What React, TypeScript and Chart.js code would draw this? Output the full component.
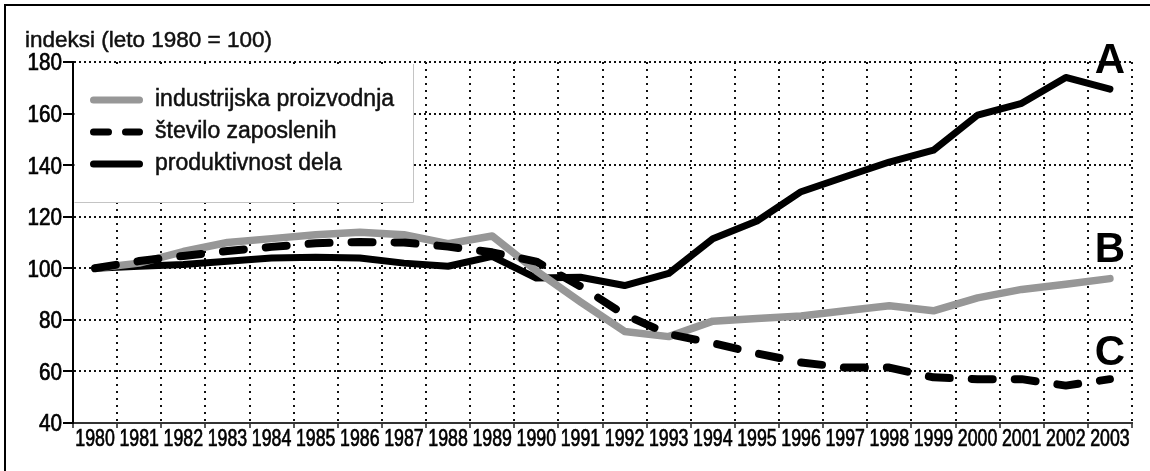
import React, { useEffect, useRef } from 'react';
import { Chart, registerables } from 'chart.js';

Chart.register(...registerables);

// ---- data ----
const YEARS = [
  '1980', '1981', '1982', '1983', '1984', '1985', '1986', '1987', '1988', '1989', '1990', '1991',
  '1992', '1993', '1994', '1995', '1996', '1997', '1998', '1999', '2000', '2001', '2002', '2003',
];
const INDUSTRIJSKA_PROIZVODNJA = [
  100, 102, 106.5, 110, 111.5, 113, 114, 113, 109.5, 112.5, 99, 87,
  75.5, 73.5, 79.5, 80.5, 81.5, 83.5, 85.5, 83.5, 88.5, 91.8, 93.8, 96,
];
const STEVILO_ZAPOSLENIH = [
  100, 102.8, 104.8, 106.7, 108.3, 109.7, 110.2, 110, 108.4, 106.2, 102.6, 93,
  82, 74.5, 71, 67, 63.5, 61.5, 61.5, 57.7, 57, 57, 54.5, 57,
];
const PRODUKTIVNOST_DELA = [
  100, 100.8, 101.5, 102.7, 104, 104.3, 104, 102, 100.8, 104.6, 96.2, 96.5,
  93.3, 98, 111.5, 118.3, 129.7, 135.5, 141.2, 145.8, 159.4, 164, 174, 169.5,
];
const SERIES_NAMES = ['industrijska proizvodnja', 'število zaposlenih', 'produktivnost dela'];
const Y_MIN = 40;
const Y_MAX = 180;
const Y_STEP = 20;
const Y_TITLE = 'indeksi (leto 1980 = 100)';
const CURVE_LETTERS = ['A', 'B', 'C'];
const CURVE_LETTER_LEVELS = [175.7, 102.4, 62.5];

const TEXT_FONT = "'Liberation Sans', Arial, Helvetica, sans-serif";

function heavyText(ctx: CanvasRenderingContext2D, text: string, x: number, y: number) {
  ctx.fillText(text, x, y);
  ctx.strokeText(text, x, y);
}

const overlayPlugin = {
  id: 'overlay',
  beforeDatasetsDraw(chart: any) {
    const { ctx, chartArea } = chart;
    const left = chartArea.left;
    const top = chartArea.top;
    const w = 340;
    const h = 140;
    ctx.save();
    ctx.fillStyle = '#ffffff';
    ctx.fillRect(left + 1.5, top + 2, w - 1.5, h - 2);
    ctx.strokeStyle = '#c4c4c4';
    ctx.lineWidth = 1;
    ctx.beginPath();
    ctx.moveTo(left + w + 0.5, top + 2);
    ctx.lineTo(left + w + 0.5, top + h + 0.5);
    ctx.lineTo(left + 1.5, top + h + 0.5);
    ctx.stroke();

    const datasets = chart.data.datasets;
    for (let i = 0; i < datasets.length; i++) {
      const ds = datasets[i];
      const cy = top + 38 + i * 32;
      ctx.save();
      ctx.strokeStyle = ds.borderColor;
      ctx.lineWidth = 7;
      ctx.lineCap = 'round';
      ctx.setLineDash(ds.borderDash ? [15, 17] : []);
      ctx.beginPath();
      ctx.moveTo(left + 20.5, cy);
      ctx.lineTo(left + 66.5, cy);
      ctx.stroke();
      ctx.restore();
      ctx.fillStyle = '#111';
      ctx.strokeStyle = '#111';
      ctx.lineWidth = 0.5;
      ctx.font = `23px ${TEXT_FONT}`;
      ctx.textBaseline = 'middle';
      ctx.textAlign = 'left';
      heavyText(ctx, ds.label, left + 82, cy);
    }
    ctx.restore();
  },
  afterDraw(chart: any) {
    const { ctx, scales } = chart;
    const x = scales.x;
    const y = scales.y;
    ctx.save();
    ctx.fillStyle = '#111';
    ctx.strokeStyle = '#111';
    ctx.lineWidth = 0.5;
    ctx.font = `22.5px ${TEXT_FONT}`;
    ctx.textAlign = 'left';
    ctx.textBaseline = 'alphabetic';
    heavyText(ctx, Y_TITLE, 25, 47);

    // x tick labels (condensed, like the reference's narrow digits)
    ctx.fillStyle = '#000';
    ctx.strokeStyle = '#000';
    ctx.lineWidth = 0.7;
    ctx.font = `24px ${TEXT_FONT}`;
    ctx.textAlign = 'center';
    x.ticks.forEach((t: any, i: number) => {
      const px = x.getPixelForTick(i);
      ctx.save();
      ctx.translate(px, x.top + 22.5);
      ctx.scale(0.74, 1);
      heavyText(ctx, String(x.getLabelForValue(t.value)), 0, 0);
      ctx.restore();
    });

    // y tick labels
    ctx.font = `23.5px ${TEXT_FONT}`;
    ctx.textAlign = 'right';
    y.ticks.forEach((t: any) => {
      const py = y.getPixelForValue(t.value);
      ctx.save();
      ctx.translate(y.right - 11, py + 8.4);
      ctx.scale(0.88, 1);
      heavyText(ctx, String(t.value), 0, 0);
      ctx.restore();
    });

    ctx.font = `bold 42px ${TEXT_FONT}`;
    ctx.textAlign = 'center';
    const lastX = x.getPixelForValue(YEARS.length - 1);
    CURVE_LETTERS.forEach((letter, i) => {
      ctx.fillText(letter, lastX, y.getPixelForValue(CURVE_LETTER_LEVELS[i]));
    });
    ctx.restore();
  },
};

export default function App() {
  const canvasRef = useRef<HTMLCanvasElement | null>(null);

  useEffect(() => {
    const canvas = canvasRef.current;
    if (!canvas) return;
    const chart = new Chart(canvas, {
      type: 'line',
      data: {
        labels: YEARS,
        datasets: [
          {
            label: SERIES_NAMES[0],
            data: INDUSTRIJSKA_PROIZVODNJA,
            borderColor: '#979797',
            borderWidth: 7.5,
            pointRadius: 0,
            tension: 0,
            borderJoinStyle: 'round',
            borderCapStyle: 'round',
            fill: false,
            order: 2,
          },
          {
            label: SERIES_NAMES[1],
            data: STEVILO_ZAPOSLENIH,
            borderColor: '#000000',
            borderWidth: 8,
            borderDash: [21, 22],
            pointRadius: 0,
            tension: 0,
            borderJoinStyle: 'round',
            borderCapStyle: 'round',
            fill: false,
            order: 1,
          },
          {
            label: SERIES_NAMES[2],
            data: PRODUKTIVNOST_DELA,
            borderColor: '#000000',
            borderWidth: 7,
            pointRadius: 0,
            tension: 0,
            borderJoinStyle: 'round',
            borderCapStyle: 'round',
            fill: false,
            order: 3,
          },
        ],
      },
      options: {
        responsive: false,
        animation: false,
        devicePixelRatio: 1,
        layout: { padding: { left: 0, top: 62, right: 18, bottom: 0 } },
        plugins: {
          legend: { display: false },
          tooltip: { enabled: false },
          title: { display: false },
        },
        scales: {
          x: {
            type: 'category',
            offset: true,
            afterFit: (s: any) => {
              s.height = 48;
            },
            grid: {
              offset: true,
              color: '#111',
              lineWidth: 2,
              drawTicks: true,
              tickLength: 5,
              tickColor: '#222',
              tickWidth: 1.5,
              tickBorderDash: [],
            },
            border: { display: true, color: '#333', width: 2, dash: [2, 5] },
            ticks: { display: false, autoSkip: false, maxRotation: 0, minRotation: 0 },
          },
          y: {
            min: Y_MIN,
            max: Y_MAX,
            afterFit: (s: any) => {
              s.width = 73;
            },
            grid: {
              color: '#111',
              lineWidth: 2,
              drawTicks: true,
              tickLength: 10,
              tickColor: '#000',
              tickWidth: 2,
              tickBorderDash: [],
            },
            border: { display: true, color: '#000', width: 2, dash: [2, 3] },
            ticks: { display: false, stepSize: Y_STEP },
          },
        },
      },
      plugins: [overlayPlugin],
    });
    return () => {
      chart.destroy();
    };
  }, []);

  return (
    <div style={{ position: 'absolute', left: 0, top: 0, width: 1150, height: 471, background: '#fff' }}>
      <canvas ref={canvasRef} width={1150} height={471} style={{ position: 'absolute', left: 0, top: 0, width: 1150, height: 471 }} />
      <div
        style={{
          position: 'absolute',
          left: 4,
          top: 4,
          width: 1146,
          height: 467,
          borderTop: '2px solid #000',
          borderLeft: '2px solid #000',
          boxSizing: 'border-box',
          pointerEvents: 'none',
        }}
      />
    </div>
  );
}
